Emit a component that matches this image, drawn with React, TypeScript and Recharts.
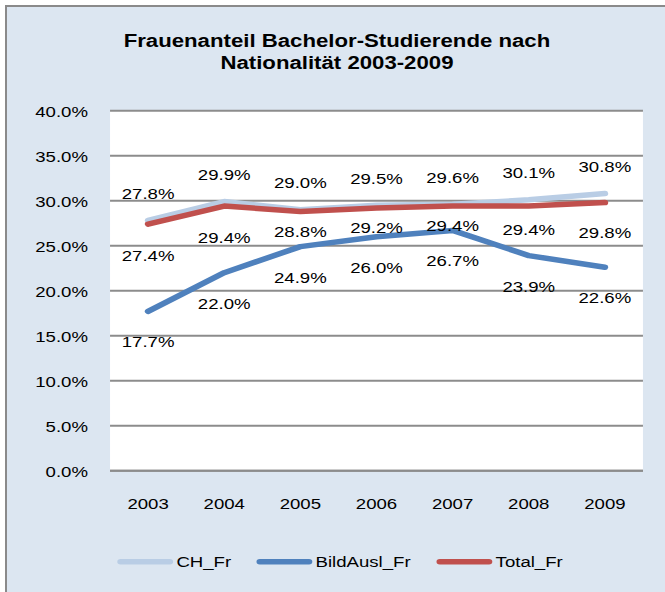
import React from "react";
import { LineChart, Line, XAxis, YAxis, CartesianGrid, LabelList } from "recharts";

const years = ["2003", "2004", "2005", "2006", "2007", "2008", "2009"];
const chFr = [27.8, 29.9, 29.0, 29.5, 29.6, 30.1, 30.8];
const bildAuslFr = [17.7, 22.0, 24.9, 26.0, 26.7, 23.9, 22.6];
const totalFr = [27.4, 29.4, 28.8, 29.2, 29.4, 29.4, 29.8];
const yTicks = [0, 5, 10, 15, 20, 25, 30, 35, 40];

// labels of Total_Fr were moved up by hand in the original for 2005-2008
const totalLabelDy = [31, 31, 20, 20, 19, 23, 30];

const series = [
  { key: "ch", name: "CH_Fr", color: "#b9cde5", legendX: 98 },
  { key: "ausl", name: "BildAusl_Fr", color: "#4f81bd", legendX: 214 },
  { key: "total", name: "Total_Fr", color: "#c0504d", legendX: 364 },
];

const data = years.map((y, i) => ({
  year: y,
  ch: chFr[i],
  ausl: bildAuslFr[i],
  total: totalFr[i],
}));

const FONT = "'Liberation Sans', Arial, sans-serif";
const STRETCH = 1.2;
const W = 554;
const H = 592;

const fmt = (v: number) => `${v.toFixed(1)}%`;

function makeLabel(dyFor: (i: number) => number) {
  return (props: any) => {
    const { x, y, value, index } = props;
    return (
      <text x={x} y={y + dyFor(index) + 5.5} textAnchor="middle" fontSize={15.5} fontFamily={FONT} fill="#000">
        {fmt(Number(value))}
      </text>
    );
  };
}

const YTick = (props: any) => {
  const { x, y, payload } = props;
  return (
    <text x={x - 18.4} y={y + 6} textAnchor="end" fontSize={15.5} fontFamily={FONT} fill="#000">
      {fmt(payload.value)}
    </text>
  );
};

const XTick = (props: any) => {
  const { x, y, payload } = props;
  return (
    <text x={x} y={y + 38.6} textAnchor="middle" fontSize={15.5} fontFamily={FONT} fill="#000">
      {payload.value}
    </text>
  );
};

export default function App() {
  return (
    <div style={{ position: "absolute", left: 0, top: 0, width: 665, height: 592, background: "#fff", overflow: "hidden" }}>
      <div
        style={{
          position: "absolute",
          left: 5,
          top: 5,
          right: 0,
          bottom: 0,
          background: "#dce6f1",
          borderTop: "2px solid #8a8a8a",
          borderLeft: "2px solid #8a8a8a",
        }}
      />
      <div
        style={{
          position: "absolute",
          left: 0,
          top: 0,
          width: W,
          height: H,
          transform: `scaleX(${STRETCH})`,
          transformOrigin: "0 0",
        }}
      >
        <LineChart width={W} height={H} data={data} margin={{ top: 110.7, right: 18.2, bottom: 0, left: 0 }}>
          <CartesianGrid vertical={false} fill="#fff" stroke="#8c8c8c" strokeWidth={2} />
          <XAxis
            dataKey="year"
            scale="band"
            height={121.3}
            tickLine={false}
            tickSize={0}
            tickMargin={0}
            axisLine={{ stroke: "#8c8c8c", strokeWidth: 2 }}
            tick={<XTick />}
            interval={0}
          />
          <YAxis
            width={91.7}
            domain={[0, 40]}
            ticks={yTicks}
            axisLine={false}
            tickLine={false}
            tickSize={0}
            tickMargin={0}
            tick={<YTick />}
            interval={0}
          />
          <Line
            dataKey="ch"
            stroke="#b9cde5"
            strokeWidth={5.5}
            strokeLinecap="round"
            strokeLinejoin="round"
            dot={false}
            isAnimationActive={false}
          >
            <LabelList dataKey="ch" content={makeLabel(() => -27)} />
          </Line>
          <Line
            dataKey="ausl"
            stroke="#4f81bd"
            strokeWidth={5.5}
            strokeLinecap="round"
            strokeLinejoin="round"
            dot={false}
            isAnimationActive={false}
          >
            <LabelList dataKey="ausl" content={makeLabel(() => 30.5)} />
          </Line>
          <Line
            dataKey="total"
            stroke="#c0504d"
            strokeWidth={5.5}
            strokeLinecap="round"
            strokeLinejoin="round"
            dot={false}
            isAnimationActive={false}
          >
            <LabelList dataKey="total" content={makeLabel((i) => totalLabelDy[i] ?? 30)} />
          </Line>
        </LineChart>
        <svg width={W} height={H} style={{ position: "absolute", left: 0, top: 0, pointerEvents: "none" }}>
          <text x={280.8} y={46.7} textAnchor="middle" fontSize={18.5} fontWeight="bold" fontFamily={FONT} fill="#000">
            Frauenanteil Bachelor-Studierende nach
          </text>
          <text x={280.8} y={69.3} textAnchor="middle" fontSize={18.5} fontWeight="bold" fontFamily={FONT} fill="#000">
            Nationalität 2003-2009
          </text>
          {series.map((s) => (
            <g key={s.key}>
              <line x1={s.legendX + 2.5} x2={s.legendX + 43.5} y1={561.7} y2={561.7} stroke={s.color} strokeWidth={5.5} strokeLinecap="round" />
              <text x={s.legendX + 49} y={567.3} fontSize={15.5} fontFamily={FONT} fill="#000">
                {s.name}
              </text>
            </g>
          ))}
        </svg>
      </div>
    </div>
  );
}
